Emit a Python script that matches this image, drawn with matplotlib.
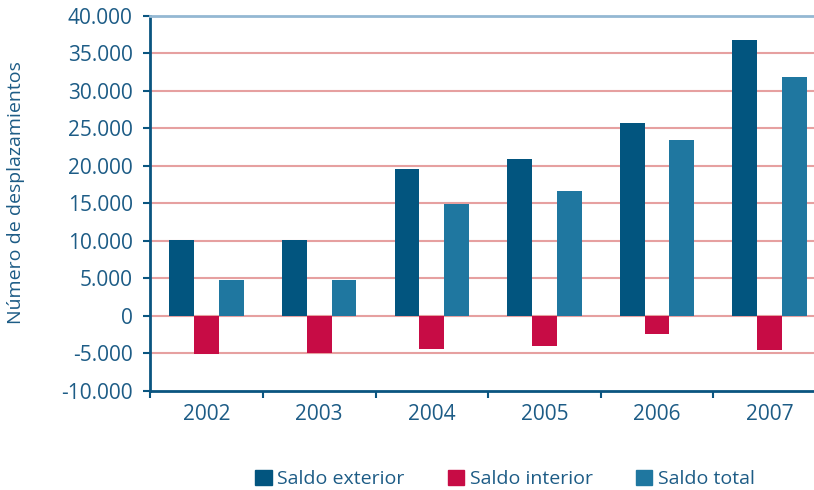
import matplotlib
matplotlib.use("Agg")
import matplotlib.pyplot as plt
from matplotlib.patches import Patch
import numpy as np

# ---- data ----
years = ["2002", "2003", "2004", "2005", "2006", "2007"]
saldo_exterior = [10100, 10100, 19600, 20900, 25700, 36700]
saldo_interior = [-5050, -4900, -4350, -4000, -2450, -4600]
saldo_total = [4800, 4800, 14950, 16700, 23400, 31800]
series_names = ["Saldo exterior", "Saldo interior", "Saldo total"]
y_ticks = [-10000, -5000, 0, 5000, 10000, 15000, 20000, 25000, 30000, 35000, 40000]
y_label = "Número de desplazamientos"

# ---- style ----
c_ext = "#02557F"
c_int = "#C70C45"
c_tot = "#1F77A0"
c_text = "#1D5C86"
c_grid = "#E6A0A0"
c_top = "#94B8D3"
c_axis = "#0A5580"
plt.rcParams['font.family'] = ['Open Sans', 'DejaVu Sans']
fs_num = 15
fs_txt = 14

fig = plt.figure(figsize=(8.14, 4.90), dpi=100)
ax = fig.add_axes([149.5 / 814, 1 - 391 / 490, 1 - 149.5 / 814, (391 - 15.7) / 490])

x = np.arange(len(years))
w = 0.22
ax.bar(x - w, saldo_exterior, w, color=c_ext, zorder=3, label=series_names[0])
ax.bar(x, saldo_interior, w, color=c_int, zorder=3, label=series_names[1])
ax.bar(x + w, saldo_total, w, color=c_tot, zorder=3, label=series_names[2])

ax.set_ylim(-10000, 40000)
ax.set_xlim(-0.507, 5.394)
ax.set_yticks(y_ticks)
ax.set_yticklabels([f"{v:,}".replace(",", ".") for v in y_ticks])
for v in y_ticks[1:-1]:
    ax.axhline(v, color=c_grid, lw=1.5, zorder=1)

ax.set_xticks(x)
ax.set_xticklabels(years)
ax.set_xticks([-0.507, 0.5, 1.5, 2.5, 3.5, 4.5], minor=True)
ax.tick_params(axis='x', which='major', length=0, pad=9, labelsize=fs_num, labelcolor=c_text)
ax.tick_params(axis='x', which='minor', length=5, width=1.5, color=c_axis, direction='out')
ax.tick_params(axis='y', length=5, width=1.5, color=c_axis, direction='out', pad=7,
               labelsize=fs_num, labelcolor=c_text)

ax.spines['right'].set_visible(False)
ax.spines['top'].set_color(c_top)
ax.spines['top'].set_linewidth(2)
ax.spines['left'].set_color(c_axis)
ax.spines['left'].set_linewidth(2)
ax.spines['bottom'].set_color(c_axis)
ax.spines['bottom'].set_linewidth(2)

fig.text(16 / 814, 1 - 192.5 / 490, y_label, rotation=90, ha='center', va='center',
         fontsize=fs_txt, color=c_text)

handles = [Patch(color=c_ext), Patch(color=c_int), Patch(color=c_tot)]
fig.legend(handles, series_names, loc='center', bbox_to_anchor=(505 / 814, 1 - 479 / 490),
           ncol=3, frameon=False, fontsize=fs_txt, labelcolor=c_text,
           handlelength=0.85, handleheight=0.85, handletextpad=0.3, columnspacing=2.2,
           borderpad=0, borderaxespad=0)

fig.savefig("out.png", dpi=100)
